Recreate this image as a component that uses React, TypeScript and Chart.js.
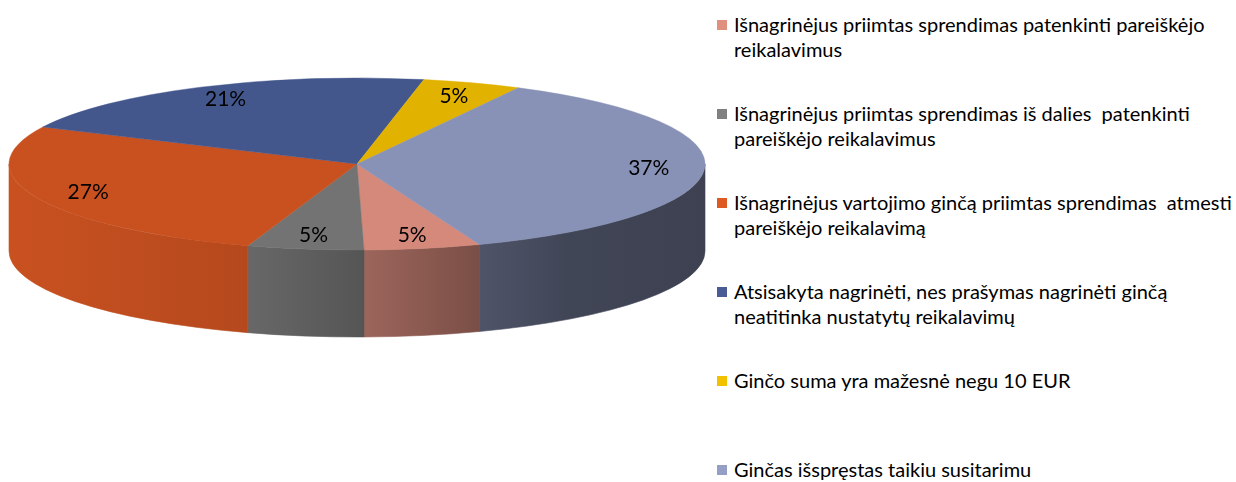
import React, { useEffect, useRef } from "react";
import { Chart, registerables } from "chart.js";

Chart.register(...registerables);

const categories: string[][] = [
  ["Išnagrinėjus priimtas sprendimas patenkinti pareiškėjo", "reikalavimus"],
  ["Išnagrinėjus priimtas sprendimas iš dalies  patenkinti", "pareiškėjo reikalavimus"],
  ["Išnagrinėjus vartojimo ginčą priimtas sprendimas  atmesti", "pareiškėjo reikalavimą"],
  ["Atsisakyta nagrinėti, nes prašymas nagrinėti ginčą", "neatitinka nustatytų reikalavimų"],
  ["Ginčo suma yra mažesnė negu 10 EUR"],
  ["Ginčas išspręstas taikiu susitarimu"],
];
const values: number[] = [5.4, 5.4, 27.0, 21.0, 4.6, 36.6];
const colors: string[] = ["#D4897B", "#737373", "#C95120", "#44578C", "#E2B200", "#8891B6"];
const legendColors: string[] = ["#E0907F", "#808080", "#DD5A25", "#4A5C96", "#F2C200", "#959EC4"];

const CX = 357;
const CY = 164;
const RX = 348;
const RY = 86;
const DEPTH = 87;
const LABEL_FRAC = 0.84;
const ROTATION = 159.4;
const FONT = "Lato, 'Open Sans', sans-serif";

function shade(hex: string, f: number): string {
  const n = parseInt(hex.slice(1), 16);
  const r = Math.round(((n >> 16) & 255) * f);
  const g = Math.round(((n >> 8) & 255) * f);
  const b = Math.round((n & 255) * f);
  return `rgb(${r},${g},${b})`;
}

const sideStops: [number, number][] = [
  [0, 1.0],
  [0.34, 0.9],
  [0.51, 0.74],
  [0.68, 0.57],
  [0.8, 0.48],
  [1, 0.45],
];

const pie3d = {
  id: "pie3d",
  beforeDatasetsDraw(chart: any) {
    const ctx: CanvasRenderingContext2D = chart.ctx;
    const meta = chart.getDatasetMeta(0);
    meta.data.forEach((arc: any, i: number) => {
      const { startAngle, endAngle } = arc.getProps(["startAngle", "endAngle"], true);
      for (const k of [-2, 0, 2]) {
        const s = Math.max(startAngle, k * Math.PI);
        const e = Math.min(endAngle, (k + 1) * Math.PI);
        if (e <= s) continue;
        const grad = ctx.createLinearGradient(CX - RX, 0, CX + RX, 0);
        sideStops.forEach(([p, f]) => grad.addColorStop(p, shade(colors[i], f)));
        ctx.save();
        ctx.beginPath();
        ctx.ellipse(CX, CY, RX, RY, 0, s, e, false);
        ctx.lineTo(CX + RX * Math.cos(e), CY + DEPTH + RY * Math.sin(e));
        ctx.ellipse(CX, CY + DEPTH, RX, RY, 0, e, s, true);
        ctx.closePath();
        ctx.fillStyle = grad;
        ctx.fill();
        ctx.strokeStyle = grad;
        ctx.lineWidth = 0.6;
        ctx.stroke();
        ctx.restore();
      }
    });
    const a0 = meta.data[0];
    const R = a0.outerRadius;
    ctx.save();
    ctx.translate(CX, CY);
    ctx.scale(RX / R, RY / R);
    ctx.translate(-a0.x, -a0.y);
  },
  afterDatasetsDraw(chart: any) {
    const ctx: CanvasRenderingContext2D = chart.ctx;
    ctx.restore();
    const meta = chart.getDatasetMeta(0);
    const total = values.reduce((a, b) => a + b, 0);
    ctx.save();
    ctx.fillStyle = "#000";
    ctx.font = `21px ${FONT}`;
    ctx.textAlign = "center";
    ctx.textBaseline = "middle";
    meta.data.forEach((arc: any, i: number) => {
      const { startAngle, endAngle } = arc.getProps(["startAngle", "endAngle"], true);
      const m = (startAngle + endAngle) / 2;
      const x = CX + RX * LABEL_FRAC * Math.cos(m);
      const y = CY + RY * LABEL_FRAC * Math.sin(m);
      ctx.fillText(`${Math.round((values[i] / total) * 100)}%`, x, y);
    });
    ctx.restore();
  },
};

export default function App() {
  const ref = useRef<HTMLCanvasElement | null>(null);
  useEffect(() => {
    document.body.style.margin = "0";
    if (!ref.current) return;
    const chart = new Chart(ref.current, {
      type: "pie",
      data: {
        labels: categories.map((c) => c.join(" ")),
        datasets: [
          {
            data: values,
            backgroundColor: colors,
            borderColor: colors,
            borderWidth: 0.5,
            clip: false,
          } as any,
        ],
      },
      options: {
        responsive: false,
        animation: false,
        devicePixelRatio: 1,
        rotation: ROTATION,
        events: [],
        plugins: {
          legend: { display: false },
          tooltip: { enabled: false },
        },
      },
      plugins: [pie3d],
    });
    return () => chart.destroy();
  }, []);

  return (
    <div style={{ position: "relative", width: 1236, height: 482, background: "#fff", overflow: "hidden" }}>
      <canvas ref={ref} width={710} height={482} style={{ position: "absolute", left: 0, top: 0 }} />
      <div style={{ position: "absolute", left: 717, top: 12, fontFamily: FONT, fontSize: 20, color: "#000" }}>
        {categories.map((lines, i) => (
          <div key={i} style={{ height: 89, position: "relative" }}>
            <div
              style={{
                position: "absolute",
                left: 0,
                top: 8,
                width: 10,
                height: 10,
                background: legendColors[i],
              }}
            />
            {lines.map((l, j) => (
              <div key={j} style={{ marginLeft: 17, lineHeight: "25px", whiteSpace: "pre" }}>
                {l}
              </div>
            ))}
          </div>
        ))}
      </div>
    </div>
  );
}
